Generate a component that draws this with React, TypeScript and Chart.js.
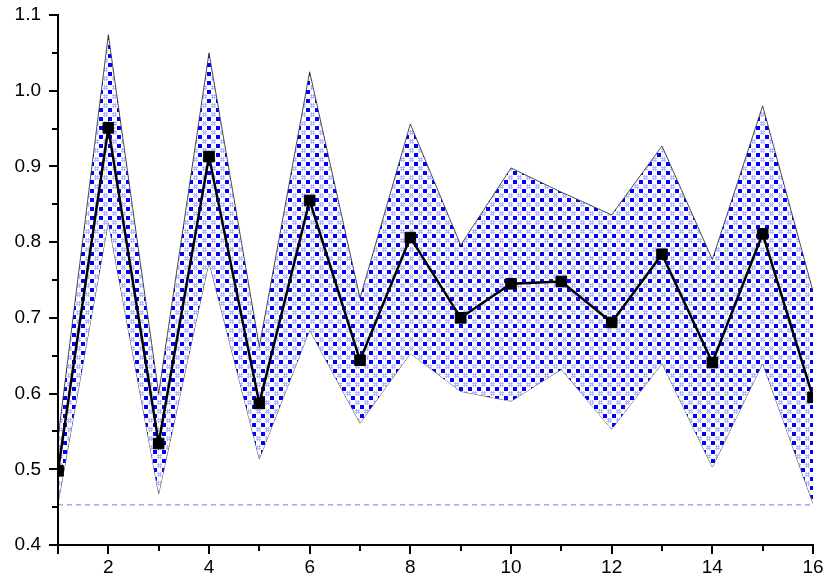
import React, { useEffect, useRef } from 'react';
import { Chart, registerables } from 'chart.js';

Chart.register(...registerables);

const xValues = [1, 2, 3, 4, 5, 6, 7, 8, 9, 10, 11, 12, 13, 14, 15, 16];
const meanValues = [0.498, 0.951, 0.534, 0.913, 0.587, 0.855, 0.644, 0.806, 0.700, 0.745, 0.748, 0.694, 0.784, 0.641, 0.811, 0.595];
const upperValues = [0.541, 1.074, 0.600, 1.050, 0.662, 1.025, 0.726, 0.956, 0.796, 0.898, 0.866, 0.836, 0.927, 0.777, 0.980, 0.735];
const lowerValues = [0.455, 0.827, 0.468, 0.774, 0.514, 0.684, 0.561, 0.653, 0.603, 0.590, 0.632, 0.553, 0.640, 0.503, 0.640, 0.455];
const baselineValue = 0.453;
const xTickValues = [2, 4, 6, 8, 10, 12, 14, 16];
const xMinorValues = [1, 3, 5, 7, 9, 11, 13, 15];
const yTickValues = [0.4, 0.5, 0.6, 0.7, 0.8, 0.9, 1.0, 1.1];
const yMinorValues = [0.45, 0.55, 0.65, 0.75, 0.85, 0.95, 1.05];

const FONT = '"Liberation Sans", Arial, sans-serif';

function makePattern(): CanvasPattern | string {
  const tile = document.createElement('canvas');
  tile.width = 9;
  tile.height = 9;
  const c = tile.getContext('2d');
  if (!c) return '#4040ff';
  c.fillStyle = '#ffffff';
  c.fillRect(0, 0, 9, 9);
  c.fillStyle = '#b4b4ff';
  c.fillRect(5, 4, 1, 5);
  c.fillRect(7, 4, 1, 5);
  c.fillRect(4, 5, 5, 1);
  c.fillRect(4, 7, 5, 1);
  c.fillStyle = '#0000ff';
  c.fillRect(0, 0, 4, 4);
  return c.createPattern(tile, 'repeat') || '#4040ff';
}

const axesPlugin = {
  id: 'originAxes',
  afterDraw(chart: any) {
    const { ctx, chartArea } = chart;
    const xs = chart.scales.x;
    const ys = chart.scales.y;
    const left = chartArea.left;
    const bottom = chartArea.bottom;
    ctx.save();
    ctx.strokeStyle = '#000';
    ctx.lineWidth = 2;
    ctx.lineCap = 'butt';
    ctx.beginPath();
    ctx.moveTo(left, chartArea.top - 1);
    ctx.lineTo(left, bottom + 1);
    ctx.moveTo(left - 1, bottom);
    ctx.lineTo(chartArea.right + 1, bottom);
    ctx.stroke();
    ctx.beginPath();
    for (const v of yTickValues) {
      const p = Math.round(ys.getPixelForValue(v));
      ctx.moveTo(left, p);
      ctx.lineTo(left - 9, p);
    }
    for (const v of yMinorValues) {
      const p = Math.round(ys.getPixelForValue(v));
      ctx.moveTo(left, p);
      ctx.lineTo(left - 6, p);
    }
    for (const v of xTickValues.concat([1])) {
      const p = Math.round(xs.getPixelForValue(v));
      ctx.moveTo(p, bottom);
      ctx.lineTo(p, bottom + 9);
    }
    for (const v of xMinorValues) {
      const p = Math.round(xs.getPixelForValue(v));
      ctx.moveTo(p, bottom);
      ctx.lineTo(p, bottom + 6);
    }
    ctx.stroke();
    ctx.restore();
  },
};

export default function App() {
  const ref = useRef<HTMLCanvasElement | null>(null);
  useEffect(() => {
    if (!ref.current) return;
    const pattern = makePattern();
    const chart = new Chart(ref.current, {
      type: 'line',
      data: {
        datasets: [
          {
            label: 'mean',
            data: xValues.map((x, i) => ({ x, y: meanValues[i] })),
            borderColor: '#000',
            borderWidth: 2.5,
            pointStyle: 'rect',
            pointRadius: 7.5,
            pointBackgroundColor: '#000',
            pointBorderColor: '#000',
            pointBorderWidth: 1,
            fill: false,
            order: 0,
          },
          {
            label: 'upper',
            data: xValues.map((x, i) => ({ x, y: upperValues[i] })),
            borderColor: '#222',
            borderWidth: 0.8,
            pointRadius: 0,
            backgroundColor: pattern as any,
            fill: '+1',
            order: 1,
          },
          {
            label: 'lower',
            data: xValues.map((x, i) => ({ x, y: lowerValues[i] })),
            borderColor: '#222',
            borderWidth: 0.8,
            pointRadius: 0,
            fill: false,
            order: 2,
          },
          {
            label: 'baseline',
            data: [
              { x: xValues[0], y: baselineValue },
              { x: xValues[xValues.length - 1], y: baselineValue },
            ],
            borderColor: '#7878ff',
            borderWidth: 1,
            borderDash: [5, 4],
            pointRadius: 0,
            fill: false,
            order: 3,
          },
        ],
      },
      options: {
        animation: false,
        responsive: true,
        maintainAspectRatio: false,
        layout: { padding: { left: 0, right: 17, top: 15, bottom: 0 } },
        plugins: { legend: { display: false }, tooltip: { enabled: false } },
        elements: { line: { tension: 0 } },
        scales: {
          x: {
            type: 'linear',
            min: 1,
            max: 16,
            grid: { display: false, drawTicks: false },
            border: { display: false },
            afterBuildTicks: (s: any) => {
              s.ticks = xTickValues.map((v) => ({ value: v }));
            },
            afterFit: (s: any) => {
              s.height = 42;
              s.paddingLeft = 0;
              s.paddingRight = 0;
            },
            ticks: {
              autoSkip: false,
              maxRotation: 0,
              padding: 11,
              color: '#000',
              font: { family: FONT, size: 19 },
              callback: (v: any) => String(v),
            },
          },
          y: {
            type: 'linear',
            min: 0.4,
            max: 1.1,
            grid: { display: false, drawTicks: false },
            border: { display: false },
            afterBuildTicks: (s: any) => {
              s.ticks = yTickValues.map((v) => ({ value: v }));
            },
            afterFit: (s: any) => {
              s.width = 58;
              s.paddingTop = 0;
              s.paddingBottom = 0;
            },
            ticks: {
              autoSkip: false,
              padding: 17,
              color: '#000',
              font: { family: FONT, size: 19 },
              callback: (v: any) => Number(v).toFixed(1),
            },
          },
        },
      },
      plugins: [axesPlugin],
    });
    return () => chart.destroy();
  }, []);
  return (
    <div style={{ position: 'absolute', left: 0, top: 0, width: 830, height: 587, background: '#fff' }}>
      <canvas ref={ref} />
    </div>
  );
}
